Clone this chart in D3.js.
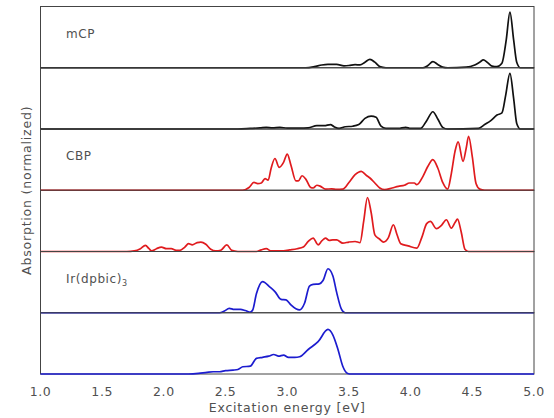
<!DOCTYPE html>
<html>
<head>
<meta charset="utf-8">
<script src="https://d3js.org/d3.v7.min.js"></script>
<style>
  body { margin: 0; background: #fff; }
  text { font-family: "DejaVu Sans", sans-serif; fill: #505050; }
</style>
</head>
<body>
<script>
// spectra: [energy eV, normalized absorption]
var mcpTop = [[1.0,0],[3.15,0],[3.22,0.02],[3.28,0.05],[3.33,0.06],[3.40,0.06],[3.46,0.035],[3.50,0.04],[3.55,0.055],[3.59,0.05],[3.63,0.10],[3.67,0.15],[3.71,0.10],[3.75,0.02],[3.80,0],[4.10,0],[4.14,0.04],[4.18,0.11],[4.22,0.06],[4.26,0.01],[4.30,0],[4.45,0.01],[4.52,0.05],[4.56,0.10],[4.59,0.14],[4.62,0.10],[4.66,0.03],[4.70,0.02],[4.74,0.08],[4.775,0.5],[4.805,1.0],[4.835,0.5],[4.86,0.1],[4.89,0],[5.0,0]];
var mcpBottom = [[1.0,0],[2.60,0],[2.70,0.01],[2.78,0.02],[2.83,0.03],[2.88,0.02],[2.94,0.03],[3.00,0.015],[3.10,0.015],[3.17,0.02],[3.24,0.06],[3.30,0.06],[3.35,0.08],[3.38,0.04],[3.42,0.01],[3.47,0.04],[3.53,0.05],[3.58,0.08],[3.63,0.19],[3.68,0.23],[3.72,0.21],[3.76,0.05],[3.80,0.01],[3.90,0.01],[3.96,0.03],[4.00,0.01],[4.08,0.01],[4.13,0.15],[4.18,0.31],[4.22,0.18],[4.26,0.03],[4.30,0],[4.55,0.01],[4.60,0.08],[4.65,0.15],[4.70,0.25],[4.74,0.29],[4.77,0.6],[4.805,1.0],[4.835,0.55],[4.86,0.1],[4.89,0],[5.0,0]];
var cbpTop = [[1.0,0],[2.64,0],[2.69,0.05],[2.73,0.14],[2.76,0.12],[2.79,0.13],[2.82,0.21],[2.845,0.18],[2.87,0.40],[2.90,0.57],[2.935,0.41],[2.97,0.50],[3.00,0.65],[3.03,0.45],[3.07,0.17],[3.09,0.17],[3.12,0.26],[3.15,0.20],[3.19,0.05],[3.21,0.04],[3.24,0.09],[3.27,0.07],[3.31,0.02],[3.36,0.025],[3.40,0.015],[3.45,0.02],[3.50,0.14],[3.55,0.28],[3.60,0.34],[3.64,0.27],[3.67,0.22],[3.71,0.13],[3.75,0.04],[3.79,0.01],[3.85,0.04],[3.90,0.07],[3.95,0.09],[3.99,0.13],[4.03,0.13],[4.05,0.10],[4.10,0.25],[4.14,0.43],[4.18,0.55],[4.22,0.40],[4.26,0.14],[4.30,0.02],[4.33,0.3],[4.36,0.7],[4.385,0.87],[4.425,0.52],[4.45,0.75],[4.47,0.97],[4.50,0.6],[4.53,0.12],[4.56,0.02],[4.60,0],[5.0,0]];
var cbpBottom = [[1.0,0],[1.70,0],[1.76,0.01],[1.81,0.05],[1.85,0.11],[1.88,0.05],[1.90,0.01],[1.94,0.05],[1.98,0.08],[2.02,0.05],[2.06,0.05],[2.10,0.02],[2.13,0.02],[2.17,0.08],[2.20,0.14],[2.23,0.12],[2.27,0.16],[2.30,0.17],[2.34,0.13],[2.38,0.04],[2.42,0.01],[2.46,0.02],[2.51,0.12],[2.55,0.02],[2.60,0],[2.75,0],[2.79,0.03],[2.83,0.05],[2.87,0.01],[2.95,0.01],[3.02,0.03],[3.08,0.05],[3.13,0.08],[3.17,0.18],[3.21,0.24],[3.25,0.12],[3.28,0.19],[3.31,0.24],[3.34,0.20],[3.37,0.21],[3.40,0.21],[3.45,0.15],[3.50,0.17],[3.55,0.18],[3.59,0.16],[3.62,0.55],[3.65,0.97],[3.68,0.70],[3.71,0.30],[3.75,0.22],[3.78,0.17],[3.82,0.25],[3.86,0.48],[3.89,0.30],[3.92,0.14],[3.98,0.10],[4.05,0.06],[4.09,0.25],[4.13,0.50],[4.16,0.54],[4.21,0.41],[4.25,0.47],[4.29,0.57],[4.33,0.42],[4.36,0.52],[4.38,0.58],[4.41,0.35],[4.44,0.04],[4.47,0],[5.0,0]];
var irTop = [[1.0,0],[2.45,0],[2.49,0.03],[2.53,0.08],[2.57,0.06],[2.62,0.06],[2.66,0.04],[2.70,0.01],[2.72,0.05],[2.75,0.34],[2.80,0.56],[2.86,0.46],[2.90,0.38],[2.95,0.24],[2.99,0.23],[3.03,0.14],[3.07,0.07],[3.10,0.05],[3.14,0.17],[3.18,0.48],[3.21,0.51],[3.26,0.52],[3.29,0.58],[3.33,0.79],[3.37,0.66],[3.40,0.37],[3.44,0.06],[3.47,0],[5.0,0]];
var irBottom = [[1.0,0],[2.20,0],[2.28,0.01],[2.35,0.03],[2.40,0.04],[2.45,0.04],[2.50,0.06],[2.56,0.07],[2.60,0.08],[2.64,0.13],[2.70,0.14],[2.75,0.28],[2.80,0.30],[2.85,0.32],[2.89,0.35],[2.93,0.32],[2.97,0.34],[3.01,0.30],[3.06,0.30],[3.10,0.31],[3.17,0.44],[3.25,0.58],[3.33,0.80],[3.37,0.70],[3.41,0.45],[3.45,0.14],[3.49,0.01],[3.52,0],[5.0,0]];

var panelData = [mcpTop, mcpBottom, cbpTop, cbpBottom, irTop, irBottom];
var panelColors = ["#111", "#111", "#e01b1e", "#e01b1e", "#1c1ccf", "#1c1ccf"];
var panelLabels = ["mCP", "", "CBP", "", "Ir(dpbic)", ""];
var xTicks = [1.0, 1.5, 2.0, 2.5, 3.0, 3.5, 4.0, 4.5, 5.0];

var width = 554, height = 418;
var plotL = 40.5, plotR = 534, plotT = 6.5, plotB = 374;
var ph = (plotB - plotT) / panelData.length;

var svg = d3.select("body").append("svg")
    .attr("width", width)
    .attr("height", height);

var x = d3.scaleLinear().domain([1, 5]).range([plotL, plotR]);
var y = d3.scaleLinear().domain([0, 1.1]).range([ph, 0]);

var line = d3.line()
    .x(function(d) { return x(d[0]); })
    .y(function(d) { return y(d[1]); })
    .curve(d3.curveMonotoneX);

panelData.forEach(function(data, i) {
    var g = svg.append("g").attr("transform", "translate(0," + (plotT + i * ph) + ")");

    g.append("rect")
        .attr("x", plotL).attr("y", 0)
        .attr("width", plotR - plotL).attr("height", ph)
        .attr("fill", "none")
        .attr("stroke", "#444")
        .attr("stroke-width", 1);

    g.append("path")
        .datum(data)
        .attr("fill", "none")
        .attr("stroke", panelColors[i])
        .attr("stroke-width", 1.7)
        .attr("stroke-linejoin", "round")
        .attr("d", line);

    if (panelLabels[i]) {
        var t = g.append("text")
            .attr("x", 66).attr("y", 31)
            .attr("font-size", 12)
            .attr("letter-spacing", 0.6)
            .text(panelLabels[i]);
        if (i == 4) {
            t.append("tspan").attr("font-size", 8).attr("dy", 3).text("3");
        }
    }
});

// x axis labels only (no tick marks visible)
svg.append("g").selectAll("text")
    .data(xTicks)
    .enter().append("text")
    .attr("x", function(d) { return x(d); })
    .attr("y", plotB + 22)
    .attr("text-anchor", "middle")
    .attr("font-size", 12.5)
    .attr("letter-spacing", 0.6)
    .text(function(d) { return d.toFixed(1); });

svg.append("text")
    .attr("x", (plotL + plotR) / 2)
    .attr("y", 412)
    .attr("text-anchor", "middle")
    .attr("font-size", 12.5)
    .attr("letter-spacing", 0.8)
    .text("Excitation energy [eV]");

svg.append("text")
    .attr("transform", "translate(31," + ((plotT + plotB) / 2) + ") rotate(-90)")
    .attr("text-anchor", "middle")
    .attr("font-size", 12.5)
    .attr("letter-spacing", 0.8)
    .text("Absorption (normalized)");
</script>
</body>
</html>
